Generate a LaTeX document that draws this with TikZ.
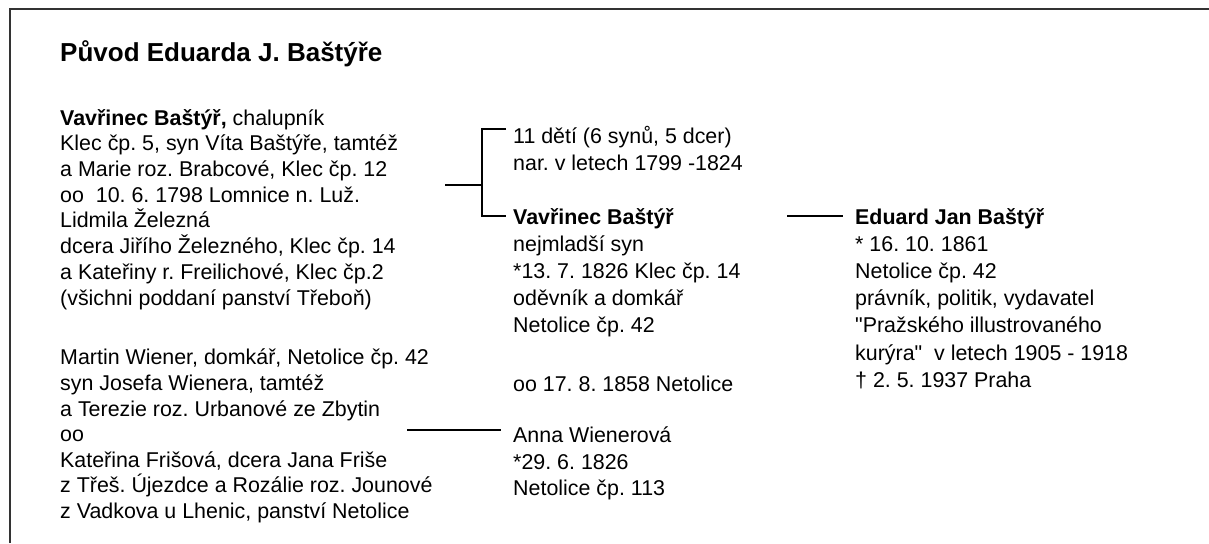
\documentclass[tikz,border=0pt]{standalone}
\usepackage{fontspec}
\setmainfont{Liberation Sans}
\usetikzlibrary{positioning}

\tikzset{
	blok/.style={anchor=north west, inner sep=0pt, align=left, font=\fontsize{21.4}{25.6}\selectfont\frenchspacing,
		execute at begin node=\rule{0pt}{20pt}},
	blokridky/.style={blok, font=\fontsize{21.4}{27.2}\selectfont\frenchspacing},
	nadpis/.style={anchor=base west, inner sep=0pt, font=\fontsize{26}{31}\selectfont\bfseries},
	spoj/.style={line width=1.4pt},
	ramec/.style={line width=2pt, color=black!80}
}

\begin{document}
\begin{tikzpicture}[x=1pt, y=-1pt]
	\useasboundingbox (0,0) rectangle (1209,543);
	\draw[ramec] (10,543) -- (10,9) -- (1209,9);

	\node[nadpis] (titul) at (60,62) {Původ Eduarda J. Baštýře};

	% predkove
	\node[blok, font=\fontsize{21.4}{25.7}\selectfont\frenchspacing] (vavrinec1) at (60,109) {\textbf{Vavřinec Baštýř,} chalupník\\
		Klec čp. 5, syn Víta Baštýře, tamtéž\\
		a Marie roz. Brabcové, Klec čp. 12\\
		oo\ \ 10. 6. 1798 Lomnice n. Luž.\\
		Lidmila Železná\\
		dcera Jiřího Železného, Klec čp. 14\\
		a Kateřiny r. Freilichové, Klec čp.2\\
		(všichni poddaní panství Třeboň)};
	\node[blok] (wiener) at (60,349) {Martin Wiener, domkář, Netolice čp. 42\\
		syn Josefa Wienera, tamtéž\\
		a Terezie roz. Urbanové ze Zbytin\\
		oo\\
		Kateřina Frišová, dcera Jana Friše\\
		z Třeš. Újezdce a Rozálie roz. Jounové\\
		z Vadkova u Lhenic, panství Netolice};

	% rodice
	\node[blokridky] (deti) at (513,126) {11 dětí (6 synů, 5 dcer)\\
		nar. v letech 1799 -1824};
	\node[blokridky] (vavrinec2) at (513,208) {\textbf{Vavřinec Baštýř}\\
		nejmladší syn\\
		*13. 7. 1826 Klec čp. 14\\
		oděvník a domkář\\
		Netolice čp. 42};
	\node[blok] (svatba) at (513,371) {oo 17. 8. 1858 Netolice};
	\node[blok, font=\fontsize{21.4}{26.5}\selectfont\frenchspacing] (anna) at (513,427) {Anna Wienerová\\
		*29. 6. 1826\\
		Netolice čp. 113};

	% syn
	\node[blokridky] (eduard) at (855,208) {\textbf{Eduard Jan Baštýř}\\
		* 16. 10. 1861\\
		Netolice čp. 42\\
		právník, politik, vydavatel\\
		\textquotedbl Pražského illustrovaného\\
		kurýra\textquotedbl\ \ v letech 1905 - 1918\\
		† 2. 5. 1937 Praha};

	\coordinate (odboc) at (445,185);
	\coordinate (vetev) at (482,185);
	\coordinate (horni) at (506,129);
	\coordinate (dolni) at (506,216);
	\draw[spoj] (odboc) -- (vetev);
	\draw[spoj] (horni) -| (vetev) |- (dolni);

	\coordinate (otec1) at (787,216);
	\coordinate (otec2) at (843,216);
	\draw[spoj] (otec1) -- (otec2);

	\coordinate (matka1) at (407,430);
	\coordinate (matka2) at (501,430);
	\draw[spoj] (matka1) -- (matka2);
\end{tikzpicture}
\end{document}
